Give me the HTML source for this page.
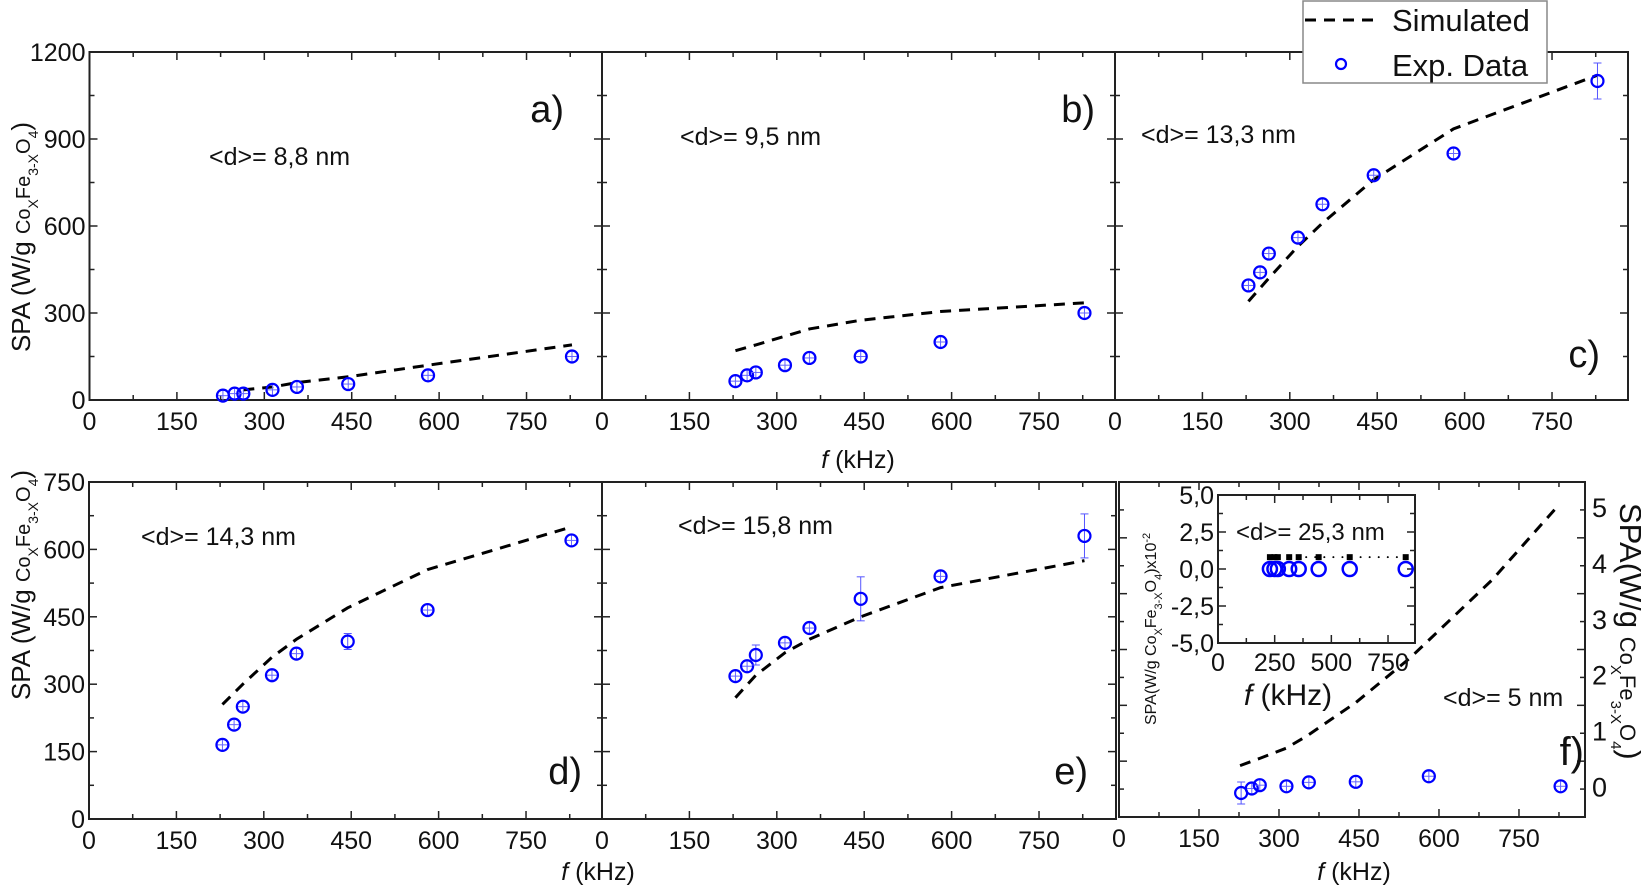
<!DOCTYPE html>
<html><head><meta charset="utf-8"><style>
html,body{margin:0;padding:0;background:#fff;width:1641px;height:889px;overflow:hidden}
svg text{font-family:"Liberation Sans",Arial,sans-serif;fill:#111}
</style></head><body>
<svg id="s" width="1641" height="889" viewBox="0 0 1641 889" xmlns="http://www.w3.org/2000/svg"></svg>
<script>
(function(){
const S=document.getElementById('s');let h='';
const F=[229,249,264,314,356,444,581,828];
function panel(o){
 const X=v=>o.x0+v*o.k, Y=v=>o.y1-(v-(o.ymn||0))/(o.ymax-(o.ymn||0))*(o.y1-o.y0);
 h+=`<rect x="${o.x0}" y="${o.y0}" width="${o.x1-o.x0}" height="${o.y1-o.y0}" fill="none" stroke="#222" stroke-width="2"/>`;
 for(let v=0;v*o.k<=o.x1-o.x0-2;v+=o.xmin){const big=v%o.xmaj==0,L=big?8:5;const x=X(v);
  h+=`<line x1="${x}" y1="${o.y1}" x2="${x}" y2="${o.y1-L}" stroke="#222" stroke-width="1.5"/><line x1="${x}" y1="${o.y0}" x2="${x}" y2="${o.y0+L}" stroke="#222" stroke-width="1.5"/>`;
  if(big&&o.xl)h+=`<text x="${x}" y="${o.y1+(o.xlo||30)}" font-size="${o.fs||25}" text-anchor="middle">${v}</text>`;}
 const y0v=(o.ymn||0);
 for(let i=0;y0v+i*o.yminr<=o.ymax+1e-6;i++){const v=y0v+i*o.yminr;const q=(v-y0v)/o.ymaj;const big=Math.abs(q-Math.round(q))<1e-6,L=big?8:5;const y=Y(v);
  h+=`<line x1="${o.x0}" y1="${y}" x2="${o.x0+L}" y2="${y}" stroke="#222" stroke-width="1.5"/><line x1="${o.x1}" y1="${y}" x2="${o.x1-L}" y2="${y}" stroke="#222" stroke-width="1.5"/>`;
  if(big&&o.yl)h+=`<text x="${o.x0-4}" y="${y+9}" font-size="${o.fs||25}" text-anchor="end">${o.fmt?o.fmt(v):v}</text>`;}
 return [X,Y];
}
function dash(X,Y,p){h+=`<polyline fill="none" stroke="#000" stroke-width="3" stroke-dasharray="11,8" points="${p.map(q=>X(q[0])+','+Y(q[1])).join(' ')}"/>`;}
function pts(X,Y,ys,err){const r=6;ys.forEach((v,i)=>{const x=X(F[i]),y=Y(v);const e=err&&err[i]?err[i]:0;
 if(e){h+=`<line x1="${x}" y1="${y-e}" x2="${x}" y2="${y+e}" stroke="#55f" stroke-width="1"/><line x1="${x-4}" y1="${y-e}" x2="${x+4}" y2="${y-e}" stroke="#55f"/><line x1="${x-4}" y1="${y+e}" x2="${x+4}" y2="${y+e}" stroke="#55f"/>`;}
 else h+=`<line x1="${x}" y1="${y-r}" x2="${x}" y2="${y+r}" stroke="#66f" stroke-width="1"/><line x1="${x-r}" y1="${y}" x2="${x+r}" y2="${y}" stroke="#66f" stroke-width="1"/>`;
 h+=`<circle cx="${x}" cy="${y}" r="${r}" fill="none" stroke="#0000ff" stroke-width="2.2"/>`;});}
function T(x,y,t,fs,anc){h+=`<text x="${x}" y="${y}" font-size="${fs}" text-anchor="${anc||'start'}">${t}</text>`;}
const k=0.5827;
const topP={y0:52,y1:400,k:k,ymax:1200,ymaj:300,yminr:150,xmaj:150,xmin:75,xl:1};
const botP={y0:482,y1:819,k:k,ymax:750,ymaj:150,yminr:75,xmaj:150,xmin:75,xl:1};
let X,Y;
[X,Y]=panel(Object.assign({},topP,{x0:89.5,x1:602,yl:1}));
dash(X,Y,[[264,35],[314,45],[356,60],[444,80],[581,120],[828,190]]);
pts(X,Y,[15,22,22,35,45,55,85,150]);
T(209,165,'&lt;d&gt;= 8,8 nm',25);T(564,122,'a)',38,'end');
[X,Y]=panel(Object.assign({},topP,{x0:602,x1:1115}));
dash(X,Y,[[229,170],[264,190],[314,220],[356,245],[444,275],[581,305],[828,335]]);
pts(X,Y,[65,85,95,120,145,150,200,300]);
T(680,145,'&lt;d&gt;= 9,5 nm',25);T(1095,122,'b)',38,'end');
[X,Y]=panel(Object.assign({},topP,{x0:1115,x1:1628}));
dash(X,Y,[[229,340],[264,420],[314,530],[356,610],[444,760],[581,935],[828,1120]]);
pts(X,Y,[395,440,505,560,675,775,850,1100],[0,0,0,0,0,0,0,18]);
T(1141,143,'&lt;d&gt;= 13,3 nm',25);T(1600,367,'c)',38,'end');
h+=`<text x="858" y="468" font-size="25" text-anchor="middle"><tspan font-style="italic">f</tspan> (kHz)</text>`;
[X,Y]=panel(Object.assign({},botP,{x0:89,x1:602,yl:1}));
dash(X,Y,[[229,255],[264,300],[314,360],[356,400],[444,470],[581,555],[828,650]]);
pts(X,Y,[165,210,250,320,368,395,465,620],[0,0,0,0,0,8,0,0]);
T(141,545,'&lt;d&gt;= 14,3 nm',25);T(582,784,'d)',38,'end');
h+=`<text x="598" y="880" font-size="25" text-anchor="middle"><tspan font-style="italic">f</tspan> (kHz)</text>`;
[X,Y]=panel(Object.assign({},botP,{x0:602,x1:1116}));
dash(X,Y,[[229,270],[264,320],[314,370],[356,400],[444,450],[581,515],[828,575]]);
pts(X,Y,[318,340,365,392,425,490,540,630],[0,0,10,0,0,22,0,22]);
T(678,534,'&lt;d&gt;= 15,8 nm',25);T(1088,784,'e)',38,'end');
[X,Y]=panel({y0:482,y1:817,x0:1119,x1:1585,k:0.5333,ymn:-0.55,ymax:5.45,ymaj:1,yminr:0.5,xmaj:150,xmin:75,xl:1});
for(let v=0;v<=5;v++)T(1592,Y(v)+10,v,27);
dash(X,Y,[[227,0.37],[264,0.5],[313,0.68],[352,0.9],[444,1.5],[546,2.3],[700,3.7],[821,5.0]]);
pts(X,Y,[-0.12,-0.04,0.02,0.0,0.07,0.08,0.18,0.0],[11,0,0,0,0,0,0,0]);
T(1443,706,'&lt;d&gt;= 5 nm',25);T(1584,765,'f)',40,'end');
h+=`<text x="1354" y="880" font-size="25" text-anchor="middle"><tspan font-style="italic">f</tspan> (kHz)</text>`;
h+=`<text transform="translate(1620,503) rotate(90)" font-size="31">SPA(W/g <tspan font-size="22">Co<tspan baseline-shift="sub" font-size="15">X</tspan>Fe<tspan baseline-shift="sub" font-size="15">3-X</tspan>O<tspan baseline-shift="sub" font-size="15">4</tspan></tspan>)</text>`;
h+=`<rect x="1218" y="495" width="197" height="148" fill="#fff"/>`;
[X,Y]=panel({y0:495,y1:643,x0:1218,x1:1415,k:0.2267,ymn:-5,ymax:5,ymaj:2.5,yminr:1.25,xmaj:250,xmin:125,xl:1,yl:1,fs:25,xlo:28,fmt:v=>v.toFixed(1).replace('.',',')});
F.forEach(f=>{h+=`<rect x="${X(f)-3}" y="${Y(0.8)-3}" width="6" height="6" fill="#000"/>`;});
for(let f=229;f<828;f+=40)h+=`<circle cx="${X(f)}" cy="${Y(0.8)}" r="1" fill="#000"/>`;
F.forEach(f=>{h+=`<circle cx="${X(f)}" cy="${Y(0)}" r="7" fill="none" stroke="#0000ff" stroke-width="2.5"/>`;});
T(1236,540,'&lt;d&gt;= 25,3 nm',24);
h+=`<text x="1288" y="705" font-size="30" text-anchor="middle"><tspan font-style="italic">f</tspan> (kHz)</text>`;
h+=`<text transform="translate(1156,725) rotate(-90)" font-size="16">SPA(W/g Co<tspan baseline-shift="sub" font-size="11">X</tspan>Fe<tspan baseline-shift="sub" font-size="11">3-X</tspan>O<tspan baseline-shift="sub" font-size="11">4</tspan>)x10<tspan baseline-shift="super" font-size="11">-2</tspan></text>`;
function ylab(cx,cy){h+=`<text transform="translate(${cx},${cy}) rotate(-90)" font-size="26" text-anchor="middle">SPA (W/g <tspan font-size="20">Co<tspan baseline-shift="sub" font-size="14">X</tspan>Fe<tspan baseline-shift="sub" font-size="14">3-X</tspan>O<tspan baseline-shift="sub" font-size="14">4</tspan></tspan>)</text>`;}
ylab(30,237);ylab(30,585);
h+=`<rect x="1303" y="1" width="244" height="82" fill="#fff" stroke="#888" stroke-width="1.5"/>`;
h+=`<line x1="1305" y1="20" x2="1378" y2="20" stroke="#000" stroke-width="3" stroke-dasharray="11,8"/>`;
h+=`<circle cx="1341" cy="64" r="5" fill="none" stroke="#0000ff" stroke-width="2.2"/>`;
T(1392,31,'Simulated',31);T(1392,76,'Exp. Data',31);
S.innerHTML=h;
})();
</script>
</body></html>
